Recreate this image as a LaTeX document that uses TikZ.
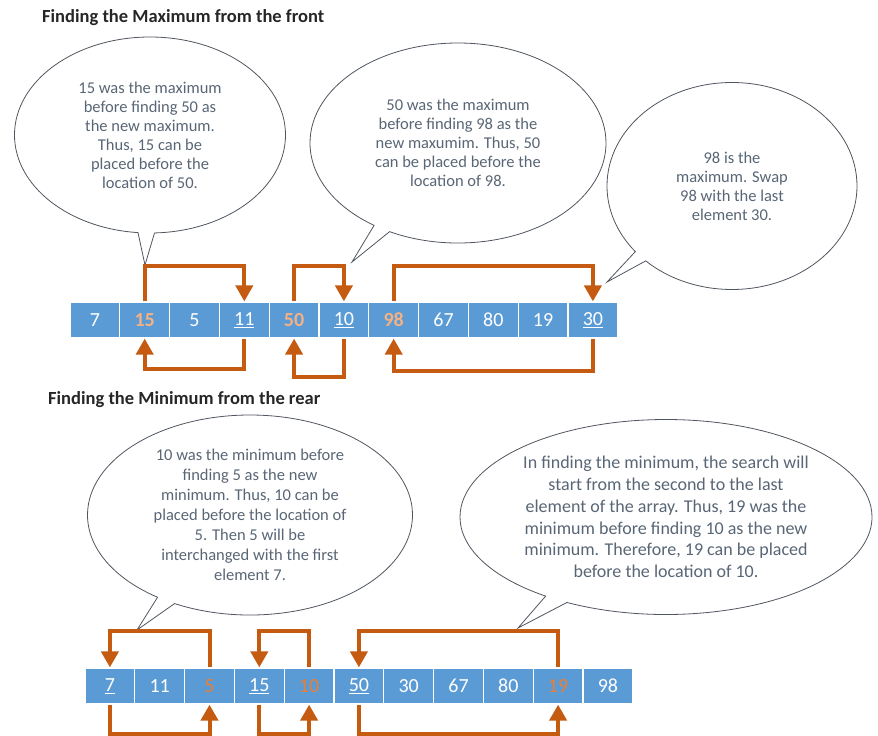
\documentclass[tikz,border=0pt]{standalone}
\usepackage{fontspec}
\setmainfont{Carlito}
\usetikzlibrary{arrows.meta, positioning, shapes.callouts, calc}

\definecolor{cellblue}{RGB}{91,155,213}
\definecolor{swaporange}{RGB}{197,90,17}
\definecolor{maxpeach}{RGB}{244,177,131}
\definecolor{minorange}{RGB}{237,125,49}
\definecolor{bubbletext}{RGB}{89,102,118}
\definecolor{bubbleline}{RGB}{80,86,96}

\begin{document}
\begin{tikzpicture}[
  x=1pt, y=-1pt,
  title/.style={anchor=west, inner sep=0pt, text=black!85, font=\bfseries\fontsize{18.5}{18.5}\selectfont},
  cell/.style={rectangle, fill=cellblue, draw=white, line width=1.2pt, minimum width=49.8pt, minimum height=36pt, inner sep=0pt, text=white, font=\fontsize{20}{20}\selectfont},
  maxcell/.style={cell, text=maxpeach, font=\bfseries\fontsize{20}{20}\selectfont},
  mincell/.style={cell, text=minorange},
  bubble/.style={ellipse callout, draw=bubbleline, line width=0.8pt, fill=white, inner sep=0pt, align=center, text=bubbletext, callout pointer arc=7, font=\fontsize{16.5}{19}\selectfont},
  swap/.style={draw=swaporange, line width=4pt, -{Triangle[width=17pt, length=16pt]}}
]
\useasboundingbox (0,0) rectangle (878,736);

% titles
\node[title] (maxtitle) at (42,18) {Finding the Maximum from the front};
\node[title] (mintitle) at (48,400) {Finding the Minimum from the rear};

% top array
\foreach \val/\sty [count=\i] in {7/cell, 15/maxcell, 5/cell, \underline{11}/cell, 50/maxcell, \underline{10}/cell, 98/maxcell, 67/cell, 80/cell, 19/cell, \underline{30}/cell}
  \node[\sty] (t\i) at ({70+24.9+(\i-1)*49.8}, 320) {\val};

% bottom array
\foreach \val/\sty [count=\i] in {\underline{7}/cell, 11/cell, 5/mincell, \underline{15}/cell, 10/mincell, \underline{50}/cell, 30/cell, 67/cell, 80/cell, 19/mincell, 98/cell}
  \node[\sty] (b\i) at ({85+24.9+(\i-1)*49.8}, 686) {\val};

% callout tips
\coordinate (tip1) at (145,265);
\coordinate (tip2) at (352,262);
\coordinate (tip3) at (607,282);
\coordinate (tip4) at (137,630);
\coordinate (tip5) at (518,628);

% callouts
\node[bubble, minimum width=271pt, minimum height=196pt, callout absolute pointer={(tip1)}] (note1) at (150,135)
  {15 was the maximum\\before finding 50 as\\the new maximum.\\Thus, 15 can be\\placed before the\\location of 50.};
\node[bubble, minimum width=296pt, minimum height=200pt, callout absolute pointer={(tip2)}] (note2) at (458,143)
  {50 was the maximum\\before finding 98 as the\\new maxumim. Thus, 50\\can be placed before the\\location of 98.};
\node[bubble, minimum width=250pt, minimum height=207pt, callout absolute pointer={(tip3)}] (note3) at (732,186)
  {98 is the\\maximum. Swap\\98 with the last\\element 30.};
\node[bubble, minimum width=325pt, minimum height=200pt, callout absolute pointer={(tip4)}, font=\fontsize{16.5}{20}\selectfont] (note4) at (250,515)
  {10 was the minimum before\\finding 5 as the new\\minimum. Thus, 10 can be\\placed before the location of\\5. Then 5 will be\\interchanged with the first\\element 7.};
\node[bubble, minimum width=412pt, minimum height=195pt, callout absolute pointer={(tip5)}, font=\fontsize{18}{21.8}\selectfont] (note5) at (666,517)
  {In finding the minimum, the search will\\start from the second to the last\\element of the array. Thus, 19 was the\\minimum before finding 10 as the new\\minimum. Therefore, 19 can be placed\\before the location of 10.};

% swaps, maximum from the front
\draw[swap] (t2.north) -- ++(0,35pt) -| (t4.north);
\draw[swap] (t5.north) -- ++(0,35pt) -| (t6.north);
\draw[swap] (t7.north) -- ++(0,35pt) -| (t11.north);
\draw[swap] (t4.south) -- ++(0,-30pt) -| (t2.south);
\draw[swap] (t6.south) -- ++(0,-38pt) -| (t5.south);
\draw[swap] (t11.south) -- ++(0,-32pt) -| (t7.south);

% swaps, minimum from the rear
\draw[swap] (b3.north) -- ++(0,36pt) -| (b1.north);
\draw[swap] (b5.north) -- ++(0,36pt) -| (b4.north);
\draw[swap] (b10.north) -- ++(0,36pt) -| (b6.north);
\draw[swap] (b1.south) -- ++(0,-29pt) -| (b3.south);
\draw[swap] (b4.south) -- ++(0,-29pt) -| (b5.south);
\draw[swap] (b6.south) -- ++(0,-29pt) -| (b10.south);
\end{tikzpicture}
\end{document}
